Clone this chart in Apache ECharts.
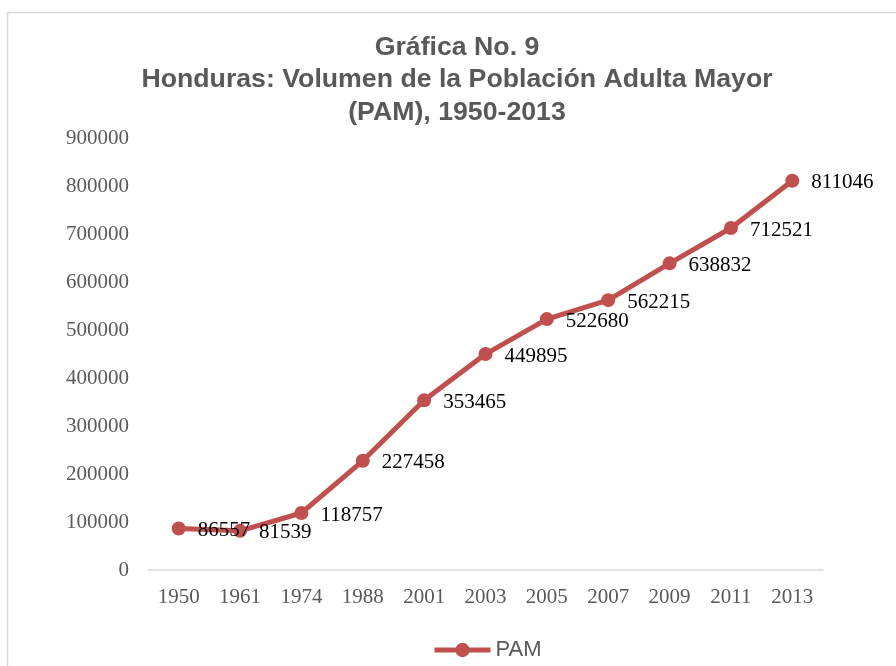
<!DOCTYPE html>
<html><head><meta charset="utf-8">
<script src="https://cdn.jsdelivr.net/npm/echarts@6/dist/echarts.min.js"></script>
<style>html,body{margin:0;padding:0;background:#fff}#c{width:896px;height:666px}</style>
</head><body><div id="c"></div>
<script>
const titleLines = ['Gráfica No. 9', 'Honduras: Volumen de la Población Adulta Mayor', '(PAM), 1950-2013'];
const categories = ['1950','1961','1974','1988','2001','2003','2005','2007','2009','2011','2013'];
const pamValues = [86557, 81539, 118757, 227458, 353465, 449895, 522680, 562215, 638832, 712521, 811046];
const seriesName = 'PAM';
const yTicks = {min: 0, max: 900000, interval: 100000};

const chart = echarts.init(document.getElementById('c'));
chart.setOption({
  backgroundColor: '#fff',
  animation: false,
  graphic: [{type:'rect', shape:{x:7.5,y:12.5,width:1000,height:1000}, style:{fill:'none', stroke:'#d9d9d9', lineWidth:1.5}, silent:true}],
  title: {
    text: titleLines.join('\n'),
    left: 457, top: 31, padding: 0,
    textAlign: 'center',
    textStyle: {fontFamily:'Liberation Sans, Arial', fontWeight:'bold', fontSize:26.7, lineHeight:32.5, color:'#595959'}
  },
  legend: {
    bottom: 0, left: 427,
    data: [seriesName],
    itemWidth: 56, itemHeight: 18,
    lineStyle: {width: 5},
    textStyle: {fontFamily:'Liberation Sans, Arial', fontSize:22, color:'#595959'}
  },
  grid: {left:148, right:73, top:138, bottom:96},
  xAxis: {
    type:'category', data: categories, boundaryGap:true,
    axisLine:{lineStyle:{color:'#d9d9d9', width:1.5}},
    axisTick:{show:false},
    axisLabel:{fontFamily:'Liberation Serif, Times New Roman', fontSize:21, color:'#595959', margin:17}
  },
  yAxis: {
    type:'value', min:yTicks.min, max:yTicks.max, interval:yTicks.interval,
    splitLine:{show:false},
    axisLine:{show:false}, axisTick:{show:false},
    axisLabel:{fontFamily:'Liberation Serif, Times New Roman', fontSize:21, color:'#595959', margin:19, formatter: v => String(v)}
  },
  series: [{
    name: seriesName, type:'line', data: pamValues,
    symbol:'circle', symbolSize:14,
    lineStyle:{color:'#C0504D', width:5},
    itemStyle:{color:'#C0504D'},
    label:{show:true, position:'right', distance:12, offset:[0,2], fontFamily:'Liberation Serif, Times New Roman', fontSize:21, color:'#000'}
  }]
});
</script></body></html>
